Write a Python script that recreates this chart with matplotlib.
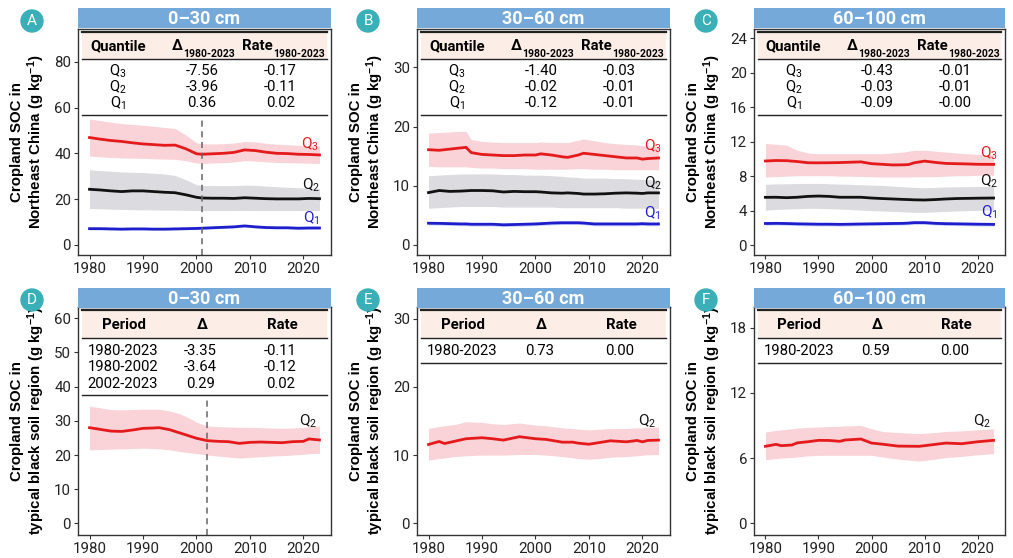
import matplotlib
matplotlib.use("Agg")
import matplotlib.pyplot as plt
from matplotlib.patches import Rectangle, Ellipse
from matplotlib.lines import Line2D

plt.rcParams['font.family'] = ['Roboto', 'DejaVu Sans']
plt.rcParams['mathtext.fontset'] = 'custom'
plt.rcParams['mathtext.rm'] = 'Roboto'
plt.rcParams['mathtext.bf'] = 'Liberation Sans:bold'
plt.rcParams['mathtext.it'] = 'Roboto:italic'

# ---------------- data ----------------
depths = ["0\u201330 cm", "30\u201360 cm", "60\u2013100 cm"]
letters_top = ["A", "B", "C"]
letters_bot = ["D", "E", "F"]

# Panel A (Northeast China, 0-30 cm)
yrs_A = [1980, 1982, 1984, 1986, 1988, 1990, 1992, 1994, 1996, 1998, 2000, 2001,
         2003, 2005, 2007, 2009, 2011, 2013, 2015, 2017, 2019, 2021, 2023]
A_q3 = [46.9, 46.2, 45.6, 45.2, 44.6, 44.1, 43.8, 43.5, 43.6, 42.0, 39.8, 39.6,
        39.8, 40.0, 40.4, 41.5, 41.2, 40.5, 40.0, 39.9, 39.6, 39.5, 39.3]
A_q3_hi = [55.0, 54.3, 53.6, 53.0, 52.6, 52.3, 51.8, 51.3, 50.9, 48.0, 44.6, 44.2,
           44.1, 44.2, 44.5, 45.2, 45.0, 44.4, 44.0, 43.8, 43.5, 43.4, 43.2]
A_q3_lo = [38.8, 38.5, 38.2, 38.0, 37.9, 37.8, 37.6, 37.5, 37.4, 36.8, 35.8, 35.6,
           35.8, 35.9, 36.2, 36.8, 36.6, 36.3, 36.0, 35.9, 35.8, 35.7, 35.6]
A_q2 = [24.3, 24.0, 23.6, 23.3, 23.6, 23.6, 23.3, 23.0, 22.8, 21.9, 20.8, 20.5,
        20.4, 20.4, 20.3, 20.6, 20.4, 20.2, 20.1, 20.1, 20.1, 20.3, 20.2]
A_q2_hi = [32.8, 32.5, 32.2, 31.9, 31.7, 31.6, 31.3, 31.0, 30.3, 28.5, 26.3, 26.0,
           25.9, 25.9, 25.9, 26.1, 26.0, 25.7, 25.4, 25.2, 25.0, 24.9, 24.7]
A_q2_lo = [15.9, 15.8, 15.6, 15.5, 15.4, 15.3, 15.3, 15.2, 15.2, 15.1, 15.0, 15.0,
           15.0, 15.0, 15.0, 15.1, 15.0, 15.0, 15.0, 15.0, 15.0, 15.0, 15.0]
A_q1 = [7.1, 7.1, 7.0, 6.9, 7.0, 7.0, 6.9, 6.9, 7.0, 7.1, 7.2, 7.3,
        7.5, 7.7, 7.9, 8.3, 7.9, 7.6, 7.5, 7.5, 7.3, 7.4, 7.4]
A_q1_hi = [7.6, 7.6, 7.5, 7.4, 7.5, 7.5, 7.4, 7.4, 7.5, 7.6, 7.7, 7.8,
           8.0, 8.2, 8.4, 8.8, 8.4, 8.1, 8.0, 8.0, 7.8, 7.9, 7.9]
A_q1_lo = [6.6, 6.6, 6.5, 6.4, 6.5, 6.5, 6.4, 6.4, 6.5, 6.6, 6.7, 6.8,
           7.0, 7.2, 7.4, 7.8, 7.4, 7.1, 7.0, 7.0, 6.8, 6.9, 6.9]

# Panel B (Northeast China, 30-60 cm)
yrs_B = [1980, 1982, 1984, 1986, 1987, 1988, 1990, 1992, 1994, 1996, 1998, 2000, 2001,
         2003, 2005, 2006, 2008, 2009, 2011, 2013, 2015, 2017, 2019, 2020, 2021, 2023]
B_q3 = [16.1, 16.0, 16.2, 16.4, 16.5, 15.6, 15.3, 15.2, 15.1, 15.1, 15.2, 15.2, 15.4,
        15.2, 14.9, 14.8, 15.2, 15.5, 15.3, 15.1, 14.9, 14.7, 14.7, 14.5, 14.6, 14.7]
B_q3_hi = [18.9, 19.0, 19.1, 19.2, 19.2, 17.8, 17.5, 17.4, 17.3, 17.3, 17.3, 17.3, 17.4,
           17.3, 17.3, 17.3, 17.7, 17.9, 17.6, 17.3, 17.1, 17.0, 16.9, 16.8, 16.7, 16.6]
B_q3_lo = [13.3, 13.2, 13.2, 13.2, 13.2, 13.1, 13.0, 13.0, 12.9, 12.9, 12.9, 12.8, 12.8,
           12.8, 12.8, 12.8, 12.9, 12.9, 12.8, 12.8, 12.7, 12.7, 12.7, 12.7, 12.7, 12.7]
B_q2 = [8.85, 9.2, 9.05, 9.1, 9.15, 9.2, 9.2, 9.15, 8.95, 9.05, 9.0, 9.0, 8.95,
        8.8, 8.75, 8.8, 8.7, 8.6, 8.6, 8.65, 8.75, 8.8, 8.75, 8.7, 8.8, 8.8]
B_q2_hi = [11.7, 11.8, 11.9, 12.0, 12.0, 12.0, 12.0, 12.0, 11.9, 11.9, 11.8, 11.8, 11.8,
           11.7, 11.6, 11.5, 11.4, 11.3, 11.3, 11.3, 11.2, 11.2, 11.1, 11.1, 11.0, 11.0]
B_q2_lo = [6.2, 6.3, 6.4, 6.5, 6.5, 6.5, 6.5, 6.5, 6.4, 6.4, 6.4, 6.4, 6.4,
           6.4, 6.3, 6.3, 6.3, 6.3, 6.3, 6.3, 6.3, 6.2, 6.2, 6.2, 6.2, 6.2]
B_q1 = [3.67, 3.65, 3.6, 3.55, 3.55, 3.5, 3.5, 3.5, 3.4, 3.45, 3.5, 3.55, 3.6,
        3.7, 3.75, 3.75, 3.75, 3.7, 3.55, 3.55, 3.55, 3.55, 3.55, 3.6, 3.55, 3.55]
B_q1_hi = [3.97, 3.95, 3.9, 3.85, 3.85, 3.8, 3.8, 3.8, 3.7, 3.75, 3.8, 3.85, 3.9,
           4.0, 4.05, 4.05, 4.05, 4.0, 3.85, 3.85, 3.85, 3.85, 3.85, 3.9, 3.85, 3.85]
B_q1_lo = [3.37, 3.35, 3.3, 3.25, 3.25, 3.2, 3.2, 3.2, 3.1, 3.15, 3.2, 3.25, 3.3,
           3.4, 3.45, 3.45, 3.45, 3.4, 3.25, 3.25, 3.25, 3.25, 3.25, 3.3, 3.25, 3.25]

# Panel C (Northeast China, 60-100 cm)
yrs_C = [1980, 1982, 1984, 1986, 1988, 1990, 1992, 1994, 1996, 1998, 2000, 2002,
         2004, 2006, 2007, 2008, 2010, 2012, 2014, 2016, 2018, 2020, 2023]
C_q3 = [9.76, 9.82, 9.8, 9.7, 9.56, 9.55, 9.56, 9.58, 9.62, 9.66, 9.45, 9.38,
        9.3, 9.32, 9.35, 9.55, 9.75, 9.6, 9.48, 9.45, 9.42, 9.38, 9.37]
C_q3_hi = [11.8, 11.7, 11.6, 11.0, 10.7, 10.6, 10.6, 10.6, 10.6, 10.6, 10.6, 10.6,
           10.7, 10.8, 10.9, 11.0, 11.0, 10.9, 10.8, 10.7, 10.6, 10.55, 10.5]
C_q3_lo = [7.9, 7.95, 8.0, 8.05, 8.05, 8.05, 8.05, 8.0, 8.0, 7.95, 7.94, 7.9,
           7.9, 7.9, 7.9, 7.92, 7.94, 7.95, 8.0, 8.05, 8.05, 8.1, 8.1]
C_q2 = [5.54, 5.55, 5.5, 5.55, 5.65, 5.69, 5.65, 5.55, 5.55, 5.55, 5.46, 5.4,
        5.35, 5.3, 5.28, 5.25, 5.23, 5.28, 5.35, 5.4, 5.42, 5.44, 5.46]
C_q2_hi = [7.05, 7.1, 7.12, 7.14, 7.16, 7.16, 7.12, 7.08, 7.05, 7.0, 6.97, 6.92,
           6.85, 6.78, 6.74, 6.7, 6.66, 6.7, 6.74, 6.76, 6.78, 6.8, 6.8]
C_q2_lo = [4.06, 4.12, 4.18, 4.22, 4.26, 4.26, 4.22, 4.18, 4.12, 4.05, 4.0, 3.95,
           3.9, 3.85, 3.82, 3.8, 3.8, 3.85, 3.9, 3.95, 4.0, 4.03, 4.06]
C_q1 = [2.5, 2.52, 2.5, 2.46, 2.44, 2.42, 2.42, 2.4, 2.42, 2.44, 2.46, 2.48,
        2.5, 2.52, 2.55, 2.6, 2.6, 2.52, 2.48, 2.46, 2.44, 2.42, 2.4]
C_q1_hi = [2.7, 2.72, 2.7, 2.66, 2.64, 2.62, 2.62, 2.6, 2.62, 2.64, 2.66, 2.68,
           2.7, 2.72, 2.75, 2.8, 2.8, 2.72, 2.68, 2.66, 2.64, 2.62, 2.6]
C_q1_lo = [2.3, 2.32, 2.3, 2.26, 2.24, 2.22, 2.22, 2.2, 2.22, 2.24, 2.26, 2.28,
           2.3, 2.32, 2.35, 2.4, 2.4, 2.32, 2.28, 2.26, 2.24, 2.22, 2.2]

# Panel D (typical black soil region, 0-30 cm)
yrs_D = [1980, 1982, 1984, 1986, 1988, 1990, 1992, 1993, 1995, 1997, 1999, 2000,
         2002, 2004, 2006, 2008, 2010, 2012, 2014, 2016, 2018, 2020, 2021, 2023]
D_q2 = [28.0, 27.5, 27.0, 26.9, 27.3, 27.8, 27.9, 28.0, 27.4, 26.4, 25.4, 24.9,
        24.2, 24.0, 23.9, 23.4, 23.7, 23.8, 23.7, 23.6, 23.9, 24.0, 24.7, 24.4]
D_hi = [34.3, 33.8, 33.3, 33.2, 33.3, 33.4, 33.4, 33.4, 32.9, 32.0, 30.5, 29.6,
        28.5, 28.3, 28.2, 28.1, 28.1, 28.0, 27.9, 27.8, 27.9, 28.1, 28.3, 28.5]
D_lo = [21.5, 21.6, 21.7, 21.8, 21.9, 22.0, 21.9, 21.8, 21.5, 21.0, 20.6, 20.4,
        20.0, 19.7, 19.4, 19.1, 19.3, 19.5, 19.7, 19.8, 20.0, 20.2, 20.4, 20.5]

# Panel E (typical black soil region, 30-60 cm)
yrs_E = [1980, 1982, 1983, 1985, 1987, 1990, 1992, 1994, 1997, 2000, 2002, 2005,
         2007, 2008, 2010, 2012, 2014, 2017, 2019, 2020, 2021, 2023]
E_q2 = [11.56, 12.0, 11.7, 12.05, 12.4, 12.55, 12.4, 12.2, 12.7, 12.4, 12.3, 11.9,
        11.9, 11.75, 11.6, 11.85, 12.1, 11.95, 12.15, 11.95, 12.15, 12.2]
E_hi = [13.9, 14.2, 14.3, 14.5, 14.9, 14.8, 14.6, 14.5, 14.7, 14.4, 14.3, 14.0,
        13.9, 13.8, 13.7, 13.8, 13.9, 13.9, 14.0, 14.0, 14.1, 14.1]
E_lo = [9.27, 9.5, 9.6, 9.8, 9.9, 10.0, 10.0, 10.0, 10.1, 10.1, 10.0, 9.8,
        9.6, 9.5, 9.4, 9.5, 9.7, 9.8, 9.9, 10.0, 10.05, 10.1]

# Panel F (typical black soil region, 60-100 cm)
yrs_F = [1980, 1982, 1983, 1985, 1986, 1988, 1990, 1992, 1994, 1995, 1998, 2000,
         2002, 2005, 2009, 2012, 2014, 2017, 2020, 2023]
F_q2 = [7.08, 7.26, 7.14, 7.2, 7.4, 7.5, 7.63, 7.62, 7.54, 7.66, 7.75, 7.38,
        7.28, 7.1, 7.08, 7.26, 7.38, 7.32, 7.5, 7.63]
F_hi = [8.4, 8.55, 8.6, 8.7, 8.75, 8.82, 8.86, 8.9, 8.92, 8.95, 9.0, 8.7,
        8.45, 8.35, 8.25, 8.35, 8.45, 8.5, 8.6, 8.7]
F_lo = [5.85, 5.95, 6.0, 6.05, 6.1, 6.2, 6.25, 6.25, 6.25, 6.25, 6.25, 6.25,
        6.1, 5.9, 5.72, 5.9, 6.05, 6.15, 6.3, 6.4]

# Tables
quantile_rows = ["Q$_3$", "Q$_2$", "Q$_1$"]
tab_A_delta = ["-7.56", "-3.96", "0.36"]
tab_A_rate = ["-0.17", "-0.11", "0.02"]
tab_B_delta = ["-1.40", "-0.02", "-0.12"]
tab_B_rate = ["-0.03", "-0.01", "-0.01"]
tab_C_delta = ["-0.43", "-0.03", "-0.09"]
tab_C_rate = ["-0.01", "-0.01", "-0.00"]
tab_D_period = ["1980-2023", "1980-2002", "2002-2023"]
tab_D_delta = ["-3.35", "-3.64", "0.29"]
tab_D_rate = ["-0.11", "-0.12", "0.02"]
tab_E_period = ["1980-2023"]
tab_E_delta = ["0.73"]
tab_E_rate = ["0.00"]
tab_F_period = ["1980-2023"]
tab_F_delta = ["0.59"]
tab_F_rate = ["0.00"]

yticks = {"A": [0, 20, 40, 60, 80], "B": [0, 10, 20, 30], "C": [0, 4, 8, 12, 16, 20, 24],
          "D": [0, 10, 20, 30, 40, 50, 60], "E": [0, 10, 20, 30], "F": [0, 6, 12, 18]}
ylims = {"A": (-4.4, 94.3), "B": (-1.7, 36.5), "C": (-1.16, 25.1),
         "D": (-3.4, 63.3), "E": (-1.7, 31.7), "F": (-1.08, 19.9)}
xticks = [1980, 1990, 2000, 2010, 2020]
vlines = {"A": 2001, "D": 2002}

# ---------------- style ----------------
RED = "#E41A1C"
RED_FILL = "#F9D3D7"
BLACK = "#111111"
GRAY_FILL = "#DCDCE0"
BLUE = "#1E1ECC"
BLUE_FILL = "#C9D3F5"
STRIP = "#74A9DA"
TEAL = "#3AAFB7"
PEACH = "#FCEEE6"
SPINE = "#333333"
FS_TAB = 10.7

W, H = 1013, 558
fig = plt.figure(figsize=(W / 100, H / 100), dpi=100)

lefts = [78, 417, 754]
widths = [253, 253, 251]
row_tops = [29, 307]
row_bots = [255, 535]
strip_tops = [8, 288]
circle_cx = [32, 368, 706]
circle_cy = [21, 300]


def px_rect(l, t, w, h):
    return [l / W, 1 - (t + h) / H, w / W, h / H]


def setup_axes(ax, key, ylabel, w):
    ax.set_xlim(1977.85, 2025.15)
    ax.set_ylim(*ylims[key])
    ax.set_yticks(yticks[key])
    ax.set_xticks(xticks)
    for s in ax.spines.values():
        s.set_color(SPINE)
        s.set_linewidth(1.0)
    ax.tick_params(axis='both', length=3, width=0.8, color=SPINE,
                   labelsize=10.8, labelcolor="#222222", pad=2)
    ax.set_ylabel(ylabel, fontsize=10.8, fontweight='bold',
                  family=['Liberation Sans', 'DejaVu Sans'], linespacing=1.1)
    ax.yaxis.set_label_coords(-31.0 / w, 0.5)


def draw_strip(ax_rect_px, title):
    l, t, w = ax_rect_px
    sax = fig.add_axes(px_rect(l, t, w, 20))
    sax.set_xlim(0, 1); sax.set_ylim(0, 1)
    sax.add_patch(Rectangle((0, 0), 1, 1, color=STRIP, transform=sax.transAxes))
    sax.text(0.5, 0.47, title, ha='center', va='center', color='white',
             fontsize=13, fontweight='bold')
    sax.axis('off')


def draw_letter(cx, cy, letter):
    r = 11
    fig.add_artist(Ellipse((cx / W, 1 - cy / H), 2 * r / W, 2 * r / H,
                           transform=fig.transFigure, color=TEAL))
    fig.text(cx / W, 1 - cy / H, letter, ha='center', va='center', color='white',
             fontsize=11)


def table_frame(ax, bottom_frac):
    x0, x1 = 0.015, 0.985
    top, hbot = 0.985, 0.866
    ax.add_patch(Rectangle((x0, hbot), x1 - x0, top - hbot, transform=ax.transAxes,
                           facecolor=PEACH, edgecolor='none', zorder=1))
    ax.add_line(Line2D([x0, x1], [top, top], transform=ax.transAxes, color='#222222', lw=1.6, zorder=3))
    ax.add_line(Line2D([x0, x1], [hbot, hbot], transform=ax.transAxes, color='#222222', lw=1.0, zorder=3))
    ax.add_line(Line2D([x0, x1], [bottom_frac, bottom_frac], transform=ax.transAxes, color='#222222', lw=1.0, zorder=3))


def header_with_sub(ax, x, y, main, sub):
    t = ax.text(x, y, main, transform=ax.transAxes, ha='left', va='baseline',
                fontsize=FS_TAB, fontweight='bold', zorder=4)
    ax.annotate(sub, xy=(1.0, 0.0), xycoords=t, xytext=(0.4, -2.5),
                textcoords='offset points', ha='left', va='baseline',
                fontsize=7.5, fontweight='bold', zorder=4)


def top_panel(i, key, yrs, q3, q3hi, q3lo, q2, q2hi, q2lo, q1, q1hi, q1lo, dcol, rcol, lab_pos):
    l, w = lefts[i], widths[i]
    ax = fig.add_axes(px_rect(l, row_tops[0], w, row_bots[0] - row_tops[0]))
    ax.fill_between(yrs, q3lo, q3hi, color=RED_FILL, lw=0, zorder=1)
    ax.fill_between(yrs, q2lo, q2hi, color=GRAY_FILL, lw=0, zorder=1)
    ax.fill_between(yrs, q1lo, q1hi, color=BLUE_FILL, lw=0, zorder=1)
    ax.plot(yrs, q3, color=RED, lw=2.0, zorder=2)
    ax.plot(yrs, q2, color=BLACK, lw=2.0, zorder=2)
    ax.plot(yrs, q1, color=BLUE, lw=2.0, zorder=2)
    bottom = 0.62
    if key in vlines:
        ax.axvline(vlines[key], ymin=0, ymax=bottom, color='#666666', lw=1.1,
                   ls=(0, (4, 3)), zorder=2)
    setup_axes(ax, key, "Cropland SOC in\nNortheast China (g kg$^{\\mathbf{-1}}$)", w)
    table_frame(ax, bottom)
    hy = 0.905
    ax.text(0.158, hy, "Quantile", transform=ax.transAxes, ha='center', va='baseline',
            fontsize=FS_TAB, fontweight='bold', zorder=4)
    header_with_sub(ax, 0.37, hy, "\u0394", "1980-2023")
    header_with_sub(ax, 0.648, hy, "Rate", "1980-2023")
    rows_y = [0.815, 0.742, 0.671]
    for r, yv in enumerate(rows_y):
        ax.text(0.158, yv, quantile_rows[r], transform=ax.transAxes, ha='center', va='center', fontsize=FS_TAB, zorder=4)
        ax.text(0.49, yv, dcol[r], transform=ax.transAxes, ha='center', va='center', fontsize=FS_TAB, zorder=4)
        ax.text(0.80, yv, rcol[r], transform=ax.transAxes, ha='center', va='center', fontsize=FS_TAB, zorder=4)
    for (xx, yy), s, c in zip(lab_pos, ["Q$_3$", "Q$_2$", "Q$_1$"], [RED, BLACK, BLUE]):
        ax.text(xx, yy, s, ha='center', va='center', color=c, fontsize=11, zorder=4)
    draw_strip((l, strip_tops[0], w), depths[i])
    draw_letter(circle_cx[i], circle_cy[0], letters_top[i])
    return ax


def bot_panel(i, key, yrs, q2, hi, lo, periods, dcol, rcol, lab_pos):
    l, w = lefts[i], widths[i]
    ax = fig.add_axes(px_rect(l, row_tops[1], w, row_bots[1] - row_tops[1]))
    ax.fill_between(yrs, lo, hi, color=RED_FILL, lw=0, zorder=1)
    ax.plot(yrs, q2, color=RED, lw=2.0, zorder=2)
    n = len(periods)
    bottom = 0.615 if n == 3 else 0.753
    if key in vlines:
        ax.axvline(vlines[key], ymin=0, ymax=bottom, color='#666666', lw=1.1,
                   ls=(0, (4, 3)), zorder=2)
    setup_axes(ax, key, "Cropland SOC in\ntypical black soil region (g kg$^{\\mathbf{-1}}$)", w)
    table_frame(ax, bottom)
    hy = 0.905
    ax.text(0.18, hy, "Period", transform=ax.transAxes, ha='center', va='baseline',
            fontsize=FS_TAB, fontweight='bold', zorder=4)
    ax.text(0.49, hy, "\u0394", transform=ax.transAxes, ha='center', va='baseline',
            fontsize=FS_TAB, fontweight='bold', zorder=4)
    ax.text(0.806, hy, "Rate", transform=ax.transAxes, ha='center', va='baseline',
            fontsize=FS_TAB, fontweight='bold', zorder=4)
    rows_y = [0.808, 0.735, 0.662]
    for r in range(n):
        yv = rows_y[r]
        ax.text(0.178, yv, periods[r], transform=ax.transAxes, ha='center', va='center', fontsize=FS_TAB, zorder=4)
        ax.text(0.483, yv, dcol[r], transform=ax.transAxes, ha='center', va='center', fontsize=FS_TAB, zorder=4)
        ax.text(0.80, yv, rcol[r], transform=ax.transAxes, ha='center', va='center', fontsize=FS_TAB, zorder=4)
    ax.text(lab_pos[0], lab_pos[1], "Q$_2$", ha='center', va='center', color=BLACK, fontsize=11, zorder=4)
    draw_strip((l, strip_tops[1], w), depths[i])
    draw_letter(circle_cx[i], circle_cy[1], letters_bot[i])
    return ax


top_panel(0, "A", yrs_A, A_q3, A_q3_hi, A_q3_lo, A_q2, A_q2_hi, A_q2_lo, A_q1, A_q1_hi, A_q1_lo,
          tab_A_delta, tab_A_rate, [(2021.2, 44.0), (2021.4, 26.2), (2021.4, 11.6)])
top_panel(1, "B", yrs_B, B_q3, B_q3_hi, B_q3_lo, B_q2, B_q2_hi, B_q2_lo, B_q1, B_q1_hi, B_q1_lo,
          tab_B_delta, tab_B_rate, [(2021.9, 16.6), (2021.9, 10.5), (2021.9, 5.4)])
top_panel(2, "C", yrs_C, C_q3, C_q3_hi, C_q3_lo, C_q2, C_q2_hi, C_q2_lo, C_q1, C_q1_hi, C_q1_lo,
          tab_C_delta, tab_C_rate, [(2022.2, 10.7), (2022.2, 7.36), (2022.2, 3.75)])
bot_panel(0, "D", yrs_D, D_q2, D_hi, D_lo, tab_D_period, tab_D_delta, tab_D_rate, (2020.8, 29.8))
bot_panel(1, "E", yrs_E, E_q2, E_hi, E_lo, tab_E_period, tab_E_delta, tab_E_rate, (2020.9, 15.0))
bot_panel(2, "F", yrs_F, F_q2, F_hi, F_lo, tab_F_period, tab_F_delta, tab_F_rate, (2020.8, 9.4))

fig.savefig("out.png", dpi=100)
